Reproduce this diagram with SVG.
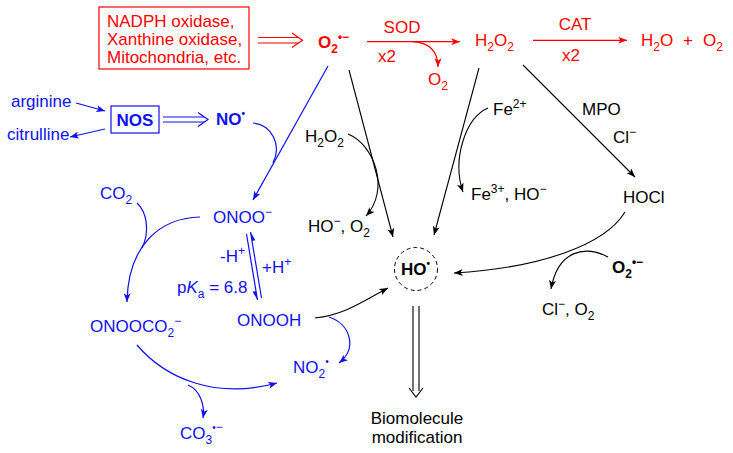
<svg xmlns="http://www.w3.org/2000/svg" width="733" height="453" viewBox="0 0 733 453">
<style>
text{font-family:"Liberation Sans",Arial,Helvetica,sans-serif;font-size:17px}
.s{font-size:12px}
.d{font-size:10px}
.b{font-weight:bold}
.r{fill:#ff0000}
.u{fill:#1010f0}
.k{fill:#000}
.lr{stroke:#ff0000;fill:none;stroke-width:1.2}
.lu{stroke:#1010f0;fill:none;stroke-width:1.2}
.lk{stroke:#000;fill:none;stroke-width:1.1}
</style>
<defs>
<marker id="ak" viewBox="0 0 10 8" refX="10" refY="4" markerWidth="9" markerHeight="7" markerUnits="userSpaceOnUse" orient="auto"><path d="M0,0 L10,4 L0,8 L2.5,4 z" fill="#000"/></marker>
<marker id="ar" viewBox="0 0 10 8" refX="10" refY="4" markerWidth="9" markerHeight="7" markerUnits="userSpaceOnUse" orient="auto"><path d="M0,0 L10,4 L0,8 L2.5,4 z" fill="#ff0000"/></marker>
<marker id="au" viewBox="0 0 10 8" refX="10" refY="4" markerWidth="9" markerHeight="7" markerUnits="userSpaceOnUse" orient="auto"><path d="M0,0 L10,4 L0,8 L2.5,4 z" fill="#1010f0"/></marker>
</defs>
<rect width="733" height="453" fill="#fff"/>

<g id="sources">
<rect x="99" y="7" width="150" height="62" fill="none" stroke="#ff0000" stroke-width="1.2"/>
<text class="r" x="107" y="27">NADPH oxidase,</text>
<text class="r" x="107" y="45">Xanthine oxidase,</text>
<text class="r" x="107" y="63">Mitochondria, etc.</text>
</g>
<g id="superoxide"><text class="r b" x="318" y="48">O<tspan class="s" dy="5">2</tspan><tspan class="s" dy="-12">•−</tspan></text></g>
<g id="sod"><text class="r" x="402" y="33" text-anchor="middle">SOD</text><text class="r" x="378" y="62">x2</text></g>
<g id="o2-sod"><text class="r" x="428" y="85">O<tspan class="s" dy="5">2</tspan></text></g>
<g id="h2o2-red"><text class="r" x="475" y="46">H<tspan class="s" dy="5">2</tspan><tspan dy="-5">O</tspan><tspan class="s" dy="5">2</tspan></text></g>
<g id="cat"><text class="r" x="575" y="30" text-anchor="middle">CAT</text><text class="r" x="562" y="61">x2</text></g>
<g id="water"><text class="r" x="641" y="46">H<tspan class="s" dy="5">2</tspan><tspan dy="-5">O</tspan><tspan x="683">+</tspan><tspan x="703">O</tspan><tspan class="s" dy="5">2</tspan></text></g>

<g id="arginine"><text class="u" x="11" y="107">arginine</text></g>
<g id="citrulline"><text class="u" x="7" y="140">citrulline</text></g>
<g id="nos"><rect x="111" y="106" width="48" height="27" fill="none" stroke="#1010f0" stroke-width="1.2"/><text class="u b" x="135" y="126" text-anchor="middle">NOS</text></g>
<g id="no"><text class="u b" x="216" y="125">NO<tspan class="d" dy="-8">•</tspan></text></g>
<g id="onoo"><text class="u" x="213" y="223">ONOO<tspan class="s" dy="-7">−</tspan></text></g>
<g id="co2"><text class="u" x="100" y="199">CO<tspan class="s" dy="5">2</tspan></text></g>
<g id="onoch"><text class="u" x="237" y="326">ONOOH</text></g>
<g id="proton-labels">
<text class="u" x="220" y="262">-H<tspan class="s" dy="-7">+</tspan></text>
<text class="u" x="262" y="273">+H<tspan class="s" dy="-7">+</tspan></text>
<text class="u" x="177" y="293">p<tspan font-style="italic">K</tspan><tspan class="s" dy="5">a</tspan><tspan dy="-5"> = 6.8</tspan></text>
</g>
<g id="onoocoo"><text class="u" x="90" y="332">ONOOCO<tspan class="s" dy="5">2</tspan><tspan class="s" dy="-12">−</tspan></text></g>
<g id="no2"><text class="u" x="293" y="373">NO<tspan class="s" dy="5">2</tspan><tspan class="d" dy="-13">•</tspan></text></g>
<g id="co3"><text class="u" x="180" y="439">CO<tspan class="s" dy="5">3</tspan><tspan class="d" dy="-13">•</tspan><tspan class="s">−</tspan></text></g>

<g id="h2o2-black"><text class="k" x="305" y="142">H<tspan class="s" dy="5">2</tspan><tspan dy="-5">O</tspan><tspan class="s" dy="5">2</tspan></text></g>
<g id="ho-o2"><text class="k" x="308" y="232">HO<tspan class="s" dy="-7">−</tspan><tspan dy="7">, O</tspan><tspan class="s" dy="5">2</tspan></text></g>
<g id="fe2"><text class="k" x="493" y="115">Fe<tspan class="s" dy="-7">2+</tspan></text></g>
<g id="fe3"><text class="k" x="471" y="200">Fe<tspan class="s" dy="-7">3+</tspan><tspan dy="7">, HO</tspan><tspan class="s" dy="-7">−</tspan></text></g>
<g id="mpo"><text class="k" x="582" y="115">MPO</text><text class="k" x="613" y="143">Cl<tspan class="s" dy="-7">−</tspan></text></g>
<g id="hocl"><text class="k" x="623" y="203">HOCl</text></g>
<g id="hydroxyl"><circle cx="416" cy="269" r="21.5" fill="none" stroke="#000" stroke-width="1" stroke-dasharray="4,3"/><text class="k b" x="401" y="275">HO<tspan class="d" dy="-8">•</tspan></text></g>
<g id="superoxide2"><text class="k b" x="612" y="273">O<tspan class="s" dy="5">2</tspan><tspan class="s" dy="-12">•−</tspan></text></g>
<g id="cl-o2"><text class="k" x="542" y="315">Cl<tspan class="s" dy="-7">−</tspan><tspan dy="7">, O</tspan><tspan class="s" dy="5">2</tspan></text></g>
<g id="biomolecule"><text class="k" x="417" y="424" text-anchor="middle">Biomolecule</text><text class="k" x="417" y="443" text-anchor="middle">modification</text></g>

<g id="connectors">
<path class="lr" d="M258,37.5 H298 M258,43 H298"/>
<path class="lr" d="M292,33 L302.5,40.3 L292,47.5"/>
<path class="lr" d="M367,41.7 H460" marker-end="url(#ar)"/>
<path class="lr" d="M413,41.7 C430,43 438,52 438,67" marker-end="url(#ar)"/>
<path class="lr" d="M533,40.3 H627" marker-end="url(#ar)"/>

<path class="lu" d="M76,103 L105,111" marker-end="url(#au)"/>
<path class="lu" d="M105,129 L70,137" marker-end="url(#au)"/>
<path class="lu" d="M163,117 H204 M163,122 H204"/>
<path class="lu" d="M198,112.5 L208,119.5 L198,126.5"/>
<path class="lu" d="M328,66 L253,200" marker-end="url(#au)"/>
<path class="lu" d="M253,123 C272,125 282,145 273,163"/>
<path class="lu" d="M246.5,234 L257.5,300 M250.5,232 L261.5,298"/>
<path d="M257.5,300 L256,291.1 L252.6,291.7 Z M250.5,232 L252,240.9 L255.4,240.3 Z" fill="#1010f0"/>
<path class="lu" d="M200,217 C160,218 128,245 127,302" marker-end="url(#au)"/>
<path class="lu" d="M137,203 C147,212 150,232 142,248"/>
<path class="lu" d="M137,345 C165,378 215,400 277,383" marker-end="url(#au)"/>
<path class="lu" d="M188,385 C200,390 205,405 203,418" marker-end="url(#au)"/>
<path class="lu" d="M329,317 C350,324 358,348 339,363" marker-end="url(#au)"/>

<path class="lk" d="M349,70 L393,237" marker-end="url(#ak)"/>
<path class="lk" d="M479,68 L434,235" marker-end="url(#ak)"/>
<path class="lk" d="M523,65 L635,177" marker-end="url(#ak)"/>
<path class="lk" d="M348,134 C375,145 390,190 366,216" marker-end="url(#ak)"/>
<path class="lk" d="M488,108 C465,118 452,160 463,192" marker-end="url(#ak)"/>
<path class="lk" d="M625,212 C605,245 540,268 454,273" marker-end="url(#ak)"/>
<path class="lk" d="M608,257 C585,245 558,250 551,289" marker-end="url(#ak)"/>
<path class="lk" d="M315,318 C345,315 365,300 388,288" marker-end="url(#ak)"/>
<path class="lk" d="M413,306 V391 M419,306 V391"/>
<path class="lk" d="M409,388 L416,397 L423,388"/>
</g>
</svg>
